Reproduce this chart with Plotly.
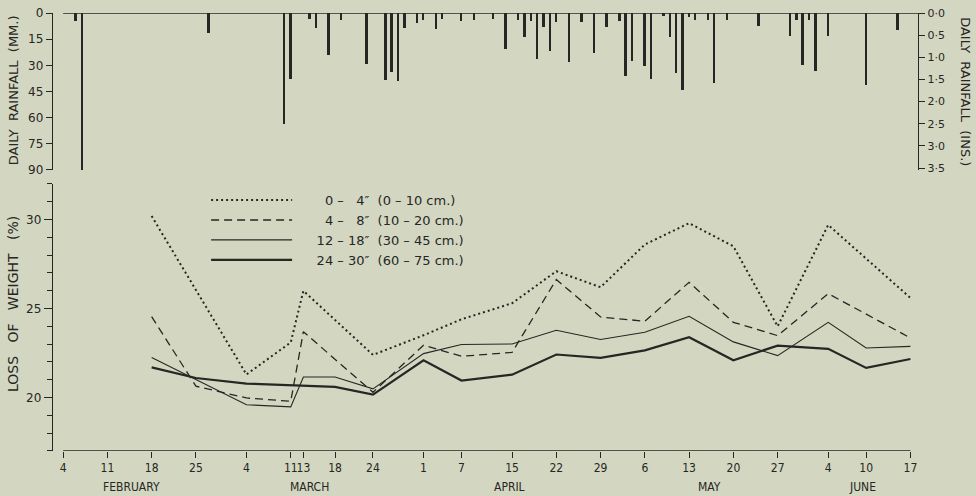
import plotly.graph_objects as go

# ---------------- data ----------------
rain_dates = [
    "1952-02-06", "1952-02-07", "1952-02-27", "1952-03-10", "1952-03-11",
    "1952-03-14", "1952-03-15", "1952-03-17", "1952-03-19", "1952-03-23",
    "1952-03-26", "1952-03-27", "1952-03-28", "1952-03-29", "1952-03-31",
    "1952-04-01", "1952-04-03", "1952-04-04", "1952-04-07", "1952-04-09",
    "1952-04-12", "1952-04-14", "1952-04-16", "1952-04-17", "1952-04-18",
    "1952-04-19", "1952-04-20", "1952-04-21", "1952-04-22", "1952-04-24",
    "1952-04-26", "1952-04-28", "1952-04-30", "1952-05-02", "1952-05-03",
    "1952-05-04", "1952-05-06", "1952-05-07", "1952-05-09", "1952-05-10",
    "1952-05-11", "1952-05-12", "1952-05-13", "1952-05-14", "1952-05-16",
    "1952-05-17", "1952-05-19", "1952-05-24", "1952-05-29", "1952-05-30",
    "1952-05-31", "1952-06-01", "1952-06-02", "1952-06-04", "1952-06-10",
    "1952-06-15",
]
rain_mm = [
    4.3, 90.5, 11.6, 63.6, 38.0,
    3.5, 8.7, 24.0, 3.9, 29.3,
    38.5, 33.7, 38.9, 8.8, 5.8,
    3.9, 9.2, 3.5, 4.6, 4.2,
    3.3, 20.8, 3.9, 13.9, 4.8,
    26.6, 8.1, 21.6, 5.4, 28.3,
    5.4, 23.1, 8.1, 4.8, 36.2,
    27.5, 30.2, 38.1, 2.0, 14.0,
    34.3, 44.3, 2.3, 4.2, 3.9,
    40.1, 3.9, 7.7, 13.1, 4.2,
    29.6, 4.2, 33.3, 13.1, 41.0,
    10.0,
]

sample_dates = [
    "1952-02-18", "1952-02-25", "1952-03-04", "1952-03-11", "1952-03-13",
    "1952-03-18", "1952-03-24", "1952-04-01", "1952-04-07", "1952-04-15",
    "1952-04-22", "1952-04-29", "1952-05-06", "1952-05-13", "1952-05-20",
    "1952-05-27", "1952-06-04", "1952-06-10", "1952-06-17",
]
loss_0_4 = [30.2, None, 21.3, 23.1, 26.0, None, 22.4, 23.5, 24.4, 25.3,
            27.1, 26.2, 28.6, 29.8, 28.5, 24.0, 29.7, None, 25.6]
loss_4_8 = [24.55, 20.64, 19.98, 19.79, 23.7, None, 20.3, 22.94, 22.32, 22.54,
            26.63, 24.53, 24.29, 26.48, 24.23, 23.48, 25.84, None, 23.35]
loss_12_18 = [22.25, None, 19.6, 19.48, 21.16, 21.16, 20.49, 22.47, 22.98, 23.01,
              23.78, 23.26, 23.67, 24.57, 23.13, 22.36, 24.23, 22.79, 22.88]
loss_24_30 = [21.7, 21.1, 20.79, 20.7, 20.67, 20.6, 20.17, 22.1, 20.96, 21.29,
              22.42, 22.23, 22.65, 23.39, 22.1, 22.92, 22.74, 21.67, 22.17]

series_names = [
    "\u2002\u2002\u2002\u20070 \u2013 \u20074\u2033\u00a0 (0 \u2013 10 cm.)",
    "\u2002\u2002\u2002\u20074 \u2013 \u20078\u2033\u00a0 (10 \u2013 20 cm.)",
    "\u2002\u2002\u200212 \u2013 18\u2033\u00a0 (30 \u2013 45 cm.)",
    "\u2002\u2002\u200224 \u2013 30\u2033\u00a0 (60 \u2013 75 cm.)",
]

tick_dates = [
    "1952-02-04", "1952-02-11", "1952-02-18", "1952-02-25", "1952-03-04",
    "1952-03-11", "1952-03-13", "1952-03-18", "1952-03-24", "1952-04-01",
    "1952-04-07", "1952-04-15", "1952-04-22", "1952-04-29", "1952-05-06",
    "1952-05-13", "1952-05-20", "1952-05-27", "1952-06-04", "1952-06-10",
    "1952-06-17",
]
tick_labels = ["4", "11", "18", "25", "4", "11", "13", "18", "24", "1", "7",
               "15", "22", "29", "6", "13", "20", "27", "4", "10", "17"]

month_names = ["FEBRUARY", "MARCH", "APRIL", "MAY", "JUNE"]
month_centres = ["1952-02-14 18:00", "1952-03-13 22:00", "1952-04-14 16:00",
                 "1952-05-16 05:00", "1952-06-09 10:00"]

mm_ticks = [0, 15, 30, 45, 60, 75, 90]
inch_ticks = [0, 0.5, 1.0, 1.5, 2.0, 2.5, 3.0, 3.5]
inch_labels = ["0\u00b70", "0\u00b75", "1\u00b70", "1\u00b75", "2\u00b70",
               "2\u00b75", "3\u00b70", "3\u00b75"]
loss_ticks = [20, 25, 30]

# ---------------- style ----------------
BG = "#d3d7c1"
INK = "#262624"
X_START = "1952-02-02 09:36"
X_END = "1952-06-18 04:48"
DAY_MS = 86400000
NARROW = "Liberation Sans Narrow, DejaVu Sans Condensed, sans-serif"

fig = go.Figure()

fig.add_trace(go.Bar(
    x=rain_dates, y=rain_mm, xaxis="x2", yaxis="y2",
    marker=dict(color=INK, line=dict(width=0)),
    width=0.3 * DAY_MS, showlegend=False, hoverinfo="skip",
))
fig.add_trace(go.Scatter(
    x=[rain_dates[0]], y=[0], xaxis="x2", yaxis="y3", mode="markers",
    marker=dict(opacity=0), showlegend=False, hoverinfo="skip",
))

line_styles = [
    dict(color=INK, width=2.0, dash="2px,3px"),
    dict(color=INK, width=1.3, dash="8px,5px"),
    dict(color=INK, width=1.1, dash="solid"),
    dict(color=INK, width=2.2, dash="solid"),
]
for name, vals, st in zip(series_names, [loss_0_4, loss_4_8, loss_12_18, loss_24_30], line_styles):
    fig.add_trace(go.Scatter(
        x=sample_dates, y=vals, mode="lines", name=name, line=st,
        connectgaps=True, xaxis="x", yaxis="y",
    ))

axis_common = dict(showgrid=False, zeroline=False, color=INK, automargin=False)

fig.update_layout(
    width=976, height=496,
    margin=dict(l=53, r=58, t=13, b=45, autoexpand=False),
    paper_bgcolor=BG, plot_bgcolor=BG,
    font=dict(family="DejaVu Sans", size=11, color=INK),
    bargap=0,
    showlegend=True,
    legend=dict(
        x=0.177, y=0.607, xanchor="left", yanchor="top",
        bgcolor="rgba(0,0,0,0)", borderwidth=0,
        font=dict(family="DejaVu Sans", size=13, color=INK),
        itemwidth=81, tracegroupgap=0,
    ),
    xaxis=dict(
        type="date", range=[X_START, X_END], anchor="y",
        tickmode="array", tickvals=tick_dates, ticktext=tick_labels,
        tickangle=0,
        ticks="outside", ticklen=6, tickwidth=1.2, tickcolor=INK,
        showline=False,
        tickfont=dict(family=NARROW, size=12, color=INK),
        **axis_common,
    ),
    xaxis2=dict(
        type="date", range=[X_START, X_END], matches="x", anchor="y2",
        showticklabels=False, ticks="", showline=False, **axis_common,
    ),
    yaxis=dict(
        domain=[0, 0.6096], range=[17, 32], anchor="x",
        tickmode="array", tickvals=loss_ticks,
        ticks="outside", ticklen=8, tickwidth=1.2, tickcolor=INK,
        minor=dict(dtick=1, tick0=17, ticks="outside", ticklen=5, tickwidth=1.1, tickcolor=INK),
        showline=True, linecolor=INK, linewidth=1.4,
        tickfont=dict(size=12, color=INK),
        **axis_common,
    ),
    yaxis2=dict(
        domain=[0.6416, 1], range=[90, 0], anchor="x2",
        tickmode="array", tickvals=mm_ticks,
        ticks="outside", ticklen=6, tickwidth=1.2, tickcolor=INK,
        showline=True, linecolor=INK, linewidth=1.4,
        tickfont=dict(size=12, color=INK),
        **axis_common,
    ),
    yaxis3=dict(
        overlaying="y2", side="right", anchor="x2", range=[90 / 25.4, 0],
        tickmode="array", tickvals=inch_ticks, ticktext=inch_labels,
        ticks="outside", ticklen=6, tickwidth=1.2, tickcolor=INK,
        showline=True, linecolor=INK, linewidth=1.4,
        tickfont=dict(size=11, color=INK),
        **axis_common,
    ),
)

# axis base lines
fig.add_shape(type="line", xref="x", yref="y", x0=tick_dates[0], x1=tick_dates[-1],
              y0=17, y1=17, line=dict(color=INK, width=1.6))
fig.add_shape(type="line", xref="x2", yref="y2", x0=tick_dates[0], x1=X_END,
              y0=0, y1=0, line=dict(color=INK, width=1.6))

for name, c in zip(month_names, month_centres):
    fig.add_annotation(x=c, xref="x", y=0, yref="paper", yshift=-36,
                       text=name, showarrow=False, xanchor="center", yanchor="middle",
                       font=dict(family=NARROW, size=12, color=INK))

title_font = dict(family="DejaVu Sans", size=13, color=INK)
fig.add_annotation(x=-0.046, xref="paper", y=0.824, yref="paper",
                   text="DAILY\u00a0 RAINFALL\u00a0 (MM.)", textangle=-90, showarrow=False,
                   xanchor="center", yanchor="middle", font=title_font)
fig.add_annotation(x=-0.046, xref="paper", y=0.336, yref="paper",
                   text="LOSS\u00a0\u00a0 OF\u00a0\u00a0 WEIGHT\u00a0\u00a0 (%)", textangle=-90, showarrow=False,
                   xanchor="center", yanchor="middle", font=dict(family="DejaVu Sans", size=14, color=INK))
fig.add_annotation(x=1.054, xref="paper", y=0.82, yref="paper",
                   text="DAILY\u00a0 RAINFALL\u00a0 (INS.)", textangle=90, showarrow=False,
                   xanchor="center", yanchor="middle", font=title_font)

fig.write_html("out.html", config={"displayModeBar": False},
               post_script="document.body.style.margin='0';document.body.style.overflow='hidden';")
